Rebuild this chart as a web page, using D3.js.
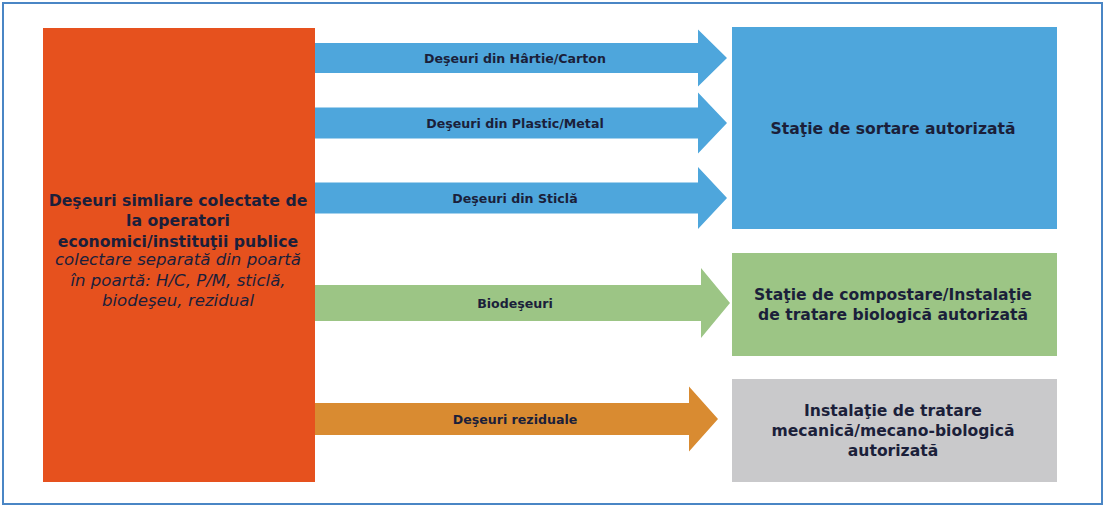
<!DOCTYPE html>
<html>
<head>
<meta charset="utf-8">
<script src="https://cdn.jsdelivr.net/npm/d3@7"></script>
<style>
  body { margin: 0; background: #fff; }
  text { font-family: "DejaVu Sans", Verdana, sans-serif; fill: #1b1f3a; }
</style>
</head>
<body>
<script>
// source box
var sourceLines = ["Deşeuri simliare colectate de", "la operatori", "economici/instituţii publice"];
var sourceNote = ["colectare separată din poartă", "în poartă: H/C, P/M, sticlă,", "biodeşeu, rezidual"];

// flows (arrows)
var flowLabels = ["Deşeuri din Hârtie/Carton", "Deşeuri din Plastic/Metal", "Deşeuri din Sticlă", "Biodeşeuri", "Deşeuri reziduale"];
var flowTypes = ["sort", "sort", "sort", "bio", "rez"];

// destinations
var destKeys = ["sort", "bio", "rez"];
var destLines = [
    ["Staţie de sortare autorizată"],
    ["Staţie de compostare/Instalaţie", "de tratare biologică autorizată"],
    ["Instalaţie de tratare", "mecanică/mecano-biologică", "autorizată"]
];

var w = 1106, h = 507;

var color = d3.scaleOrdinal()
    .domain(["src", "sort", "bio", "rez"])
    .range(["#e6511e", "#4ea6dc", "#9cc585", "#d98b31"]);
var boxColor = d3.scaleOrdinal()
    .domain(destKeys)
    .range(["#4ea6dc", "#9cc585", "#c9c9cb"]);

// layout
var arrowY = d3.scaleOrdinal().domain(flowLabels).range([58, 123, 198, 303, 419]);
var shaftH = d3.scaleOrdinal().domain(flowLabels).range([30, 31, 31, 36, 32]);
var headH = d3.scaleOrdinal().domain(flowLabels).range([57, 61, 62, 70, 65]);
var tipX = d3.scaleOrdinal().domain(flowLabels).range([727, 727, 727, 730, 718]);
var destY = d3.scaleOrdinal().domain(destKeys).range([[27, 229], [253, 356], [379, 482]]);

var svg = d3.select("body").append("svg")
    .attr("width", w)
    .attr("height", h);

// frame
svg.append("rect")
    .attr("x", 3).attr("y", 3)
    .attr("width", 1099).attr("height", 501)
    .style("fill", "#fff")
    .style("stroke", "#4a86c5")
    .style("stroke-width", 2);

// source box
svg.append("rect")
    .attr("x", 43).attr("y", 28)
    .attr("width", 272).attr("height", 454)
    .style("fill", color("src"));

var srcText = svg.append("text")
    .attr("text-anchor", "middle")
    .style("font-size", "15.7px");
sourceLines.forEach(function(t, i){
    srcText.append("tspan")
        .attr("x", 178).attr("y", 205.5 + i * 20.5)
        .style("font-weight", "bold")
        .text(t);
});
sourceNote.forEach(function(t, i){
    srcText.append("tspan")
        .attr("x", 178).attr("y", 265 + i * 20.5)
        .style("font-style", "italic")
        .style("font-size", "16.6px")
        .text(t);
});

// arrows
var x0 = 315, headBase = 698;
var arrows = svg.selectAll(".arrow")
    .data(flowLabels)
    .enter()
    .append("g")
    .attr("class", "arrow");

arrows.append("path")
    .attr("d", function(d){
        var cy = arrowY(d), sh = shaftH(d) / 2, hh = headH(d) / 2;
        var hb = headBase - (727 - tipX(d));
        return "M" + x0 + "," + (cy - sh) +
            "L" + hb + "," + (cy - sh) +
            "L" + hb + "," + (cy - hh) +
            "L" + tipX(d) + "," + cy +
            "L" + hb + "," + (cy + hh) +
            "L" + hb + "," + (cy + sh) +
            "L" + x0 + "," + (cy + sh) + "Z";
    })
    .style("fill", function(d, i){ return color(flowTypes[i]); });

arrows.append("text")
    .attr("x", 515)
    .attr("y", function(d){ return arrowY(d) + 5; })
    .attr("text-anchor", "middle")
    .style("font-size", "12.6px")
    .style("font-weight", "bold")
    .text(function(d){ return d; });

// destination boxes
var dests = svg.selectAll(".dest")
    .data(destKeys)
    .enter()
    .append("g")
    .attr("class", "dest");

dests.append("rect")
    .attr("x", 732)
    .attr("y", function(d){ return destY(d)[0]; })
    .attr("width", 325)
    .attr("height", function(d){ return destY(d)[1] - destY(d)[0]; })
    .style("fill", function(d){ return boxColor(d); });

dests.each(function(d, i){
    var lines = destLines[i];
    var cy = (destY(d)[0] + destY(d)[1]) / 2;
    var lh = 20;
    var t = d3.select(this).append("text")
        .attr("text-anchor", "middle")
        .style("font-size", "15.6px")
        .style("font-weight", "bold");
    lines.forEach(function(s, j){
        t.append("tspan")
            .attr("x", 893)
            .attr("y", cy + 5.5 + (j - (lines.length - 1) / 2) * lh)
            .text(s);
    });
});
</script>
</body>
</html>
